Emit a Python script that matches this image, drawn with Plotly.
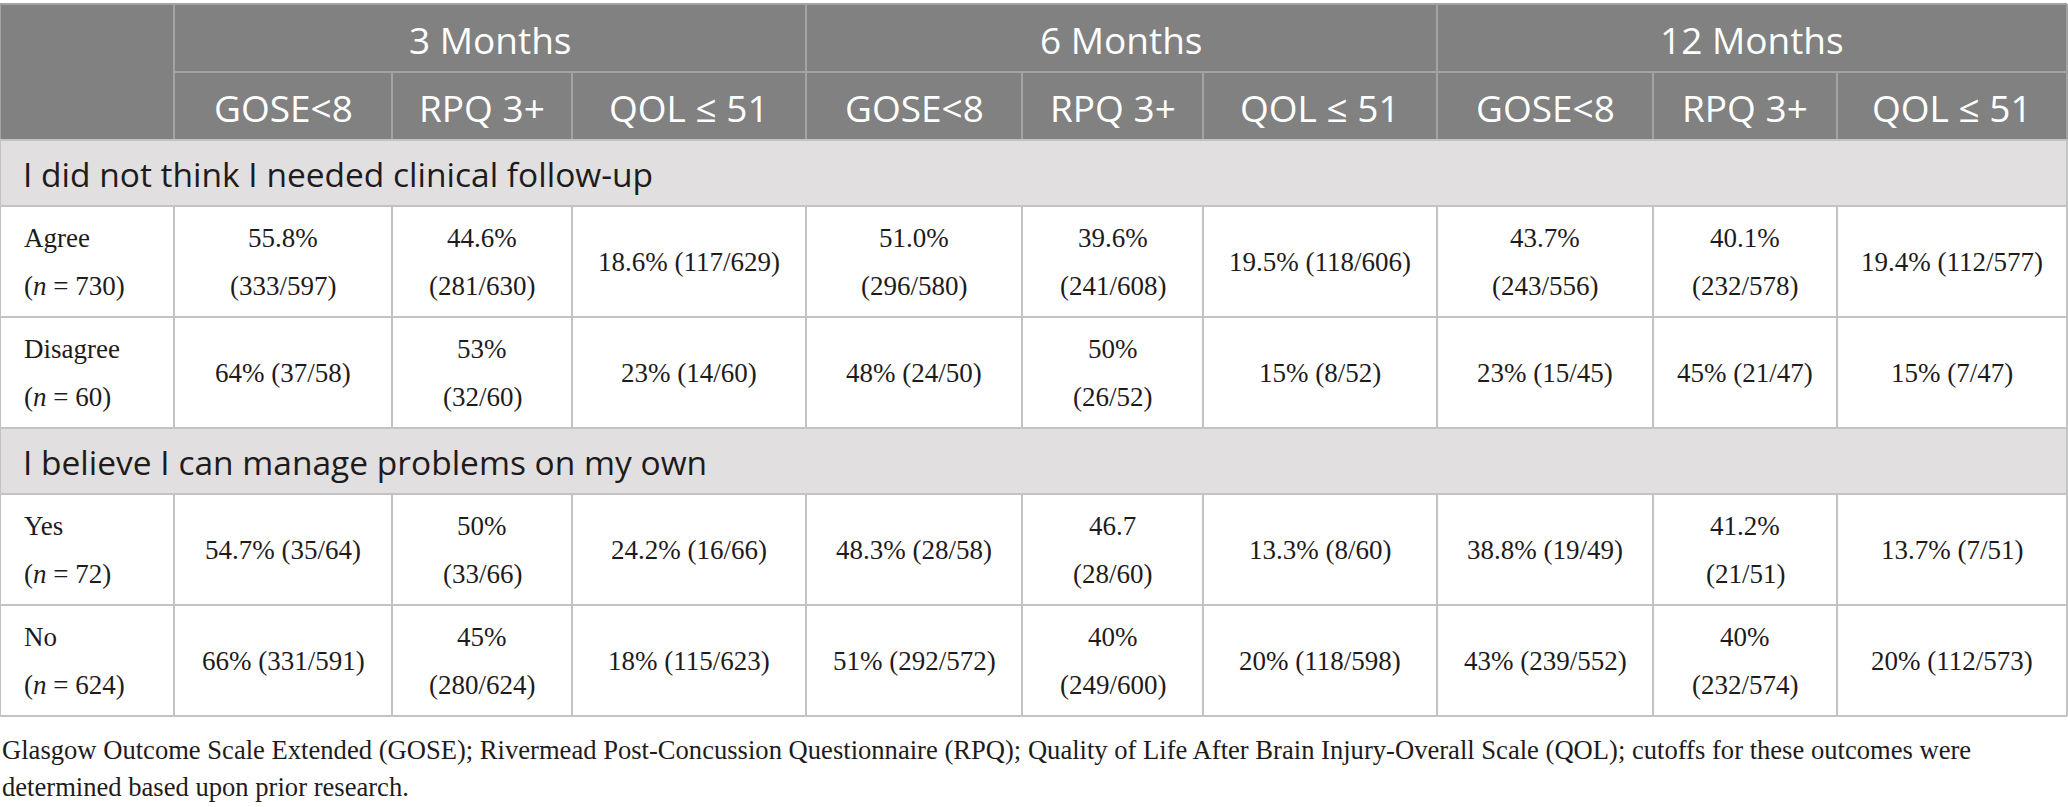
import plotly.graph_objects as go

# ---- table content ----
timepoints = ["3 Months", "6 Months", "12 Months"]
outcomes = ["GOSE<8", "RPQ 3+", "QOL ≤ 51"]

sections = ["I did not think I needed clinical follow-up",
            "I believe I can manage problems on my own"]

# row labels per section ("\n" = line break as in the printed table)
row_labels = [
    ["Agree\n(<i>n</i> = 730)", "Disagree\n(<i>n</i> = 60)"],
    ["Yes\n(<i>n</i> = 72)", "No\n(<i>n</i> = 624)"],
]

agree = ["55.8%\n(333/597)", "44.6%\n(281/630)", "18.6% (117/629)",
         "51.0%\n(296/580)", "39.6%\n(241/608)", "19.5% (118/606)",
         "43.7%\n(243/556)", "40.1%\n(232/578)", "19.4% (112/577)"]
disagree = ["64% (37/58)", "53%\n(32/60)", "23% (14/60)",
            "48% (24/50)", "50%\n(26/52)", "15% (8/52)",
            "23% (15/45)", "45% (21/47)", "15% (7/47)"]
yes = ["54.7% (35/64)", "50%\n(33/66)", "24.2% (16/66)",
       "48.3% (28/58)", "46.7\n(28/60)", "13.3% (8/60)",
       "38.8% (19/49)", "41.2%\n(21/51)", "13.7% (7/51)"]
no = ["66% (331/591)", "45%\n(280/624)", "18% (115/623)",
      "51% (292/572)", "40%\n(249/600)", "20% (118/598)",
      "43% (239/552)", "40%\n(232/574)", "20% (112/573)"]

footnote = ["Glasgow Outcome Scale Extended (GOSE); Rivermead Post-Concussion Questionnaire (RPQ); "
            "Quality of Life After Brain Injury-Overall Scale (QOL); cutoffs for these outcomes were",
            "determined based upon prior research."]

# ---- layout geometry (pixels) ----
W, H = 2068, 807
col_x = [0, 174, 392, 572, 806, 1022, 1203, 1437, 1653, 1837, 2067]
hdr_y = [4, 72, 140]
sec_h = 66
row_h = 111
line_gap = 48

HDR_BG = "#808180"
HDR_LINE = "#a3a3a3"
SEC_BG = "#e1dfe0"
GRID = "#c3c3c3"
TXT = "#1e1b1c"
SANS = "Open Sans, Noto Sans, sans-serif"
SERIF = "Liberation Serif, Times New Roman, serif"

shapes = []
annots = []


def rect(x0, y0, x1, y1, fill):
    shapes.append(dict(type="rect", x0=x0, y0=y0, x1=x1, y1=y1, xref="x", yref="y",
                       fillcolor=fill, line=dict(width=0), layer="below"))


def hline(x0, x1, y, color, w=2):
    shapes.append(dict(type="line", x0=x0, x1=x1, y0=y, y1=y, xref="x", yref="y",
                       line=dict(color=color, width=w)))


def vline(x, y0, y1, color, w=2):
    shapes.append(dict(type="line", x0=x, x1=x, y0=y0, y1=y1, xref="x", yref="y",
                       line=dict(color=color, width=w)))


def text(x, y, s, size, family, color=TXT, anchor="center"):
    annots.append(dict(x=x, y=y, xref="x", yref="y", text=s, showarrow=False,
                       xanchor=anchor, yanchor="middle",
                       font=dict(size=size, family=family, color=color)))


def cell_text(x, yc, s, anchor="center"):
    parts = s.split("\n")
    n = len(parts)
    for i, p in enumerate(parts):
        text(x, yc + (i - (n - 1) / 2) * line_gap, p, 27, SERIF, anchor=anchor)


# header block
rect(0, hdr_y[0], col_x[-1], hdr_y[2], HDR_BG)
hline(0, col_x[-1], hdr_y[0], HDR_LINE)
hline(col_x[1], col_x[-1], hdr_y[1], HDR_LINE)
for k in range(3):
    x0, x1 = col_x[1 + 3 * k], col_x[4 + 3 * k]
    text((x0 + x1) / 2, (hdr_y[0] + hdr_y[1]) / 2 + 1, timepoints[k], 37, SANS, "white")
    for j in range(3):
        a, b = col_x[1 + 3 * k + j], col_x[2 + 3 * k + j]
        text((a + b) / 2, (hdr_y[1] + hdr_y[2]) / 2 + 1, outcomes[j], 37, SANS, "white")
for i, x in enumerate(col_x):
    if i in (0, 1, 4, 7, 10):
        vline(x, hdr_y[0], hdr_y[2], HDR_LINE)
    else:
        vline(x, hdr_y[1], hdr_y[2], HDR_LINE)

# body
body = [[agree, disagree], [yes, no]]
y = hdr_y[2]
for s in range(2):
    rect(0, y, col_x[-1], y + sec_h, SEC_BG)
    hline(0, col_x[-1], y, GRID)
    vline(col_x[0], y, y + sec_h, GRID)
    vline(col_x[-1], y, y + sec_h, GRID)
    text(21, y + sec_h / 2 + 1, sections[s], 33.5, SANS, anchor="left")
    y += sec_h
    for r in range(2):
        hline(0, col_x[-1], y, GRID)
        for x in col_x:
            vline(x, y, y + row_h, GRID)
        yc = y + row_h / 2
        cell_text(22, yc, row_labels[s][r], anchor="left")
        for c, val in enumerate(body[s][r]):
            cell_text((col_x[c + 1] + col_x[c + 2]) / 2, yc, val)
        y += row_h
hline(0, col_x[-1], y, GRID)

# footnote
for i, line in enumerate(footnote):
    text(0, 750 + i * 37, line, 26.6, SERIF, anchor="left")

fig = go.Figure(go.Scatter(x=[0, W], y=[0, H], mode="markers", marker=dict(opacity=0),
                           hoverinfo="skip", showlegend=False))
fig.update_layout(
    width=W, height=H,
    margin=dict(l=0, r=0, t=0, b=0),
    paper_bgcolor="white", plot_bgcolor="white",
    xaxis=dict(range=[0, W], visible=False, fixedrange=True),
    yaxis=dict(range=[H, 0], visible=False, fixedrange=True),
    shapes=shapes, annotations=annots,
)

# drop the default page margin so the figure sits at the window corner
fig.write_html("out.html", config={"displayModeBar": False},
               post_script="document.body.style.margin='0';")
